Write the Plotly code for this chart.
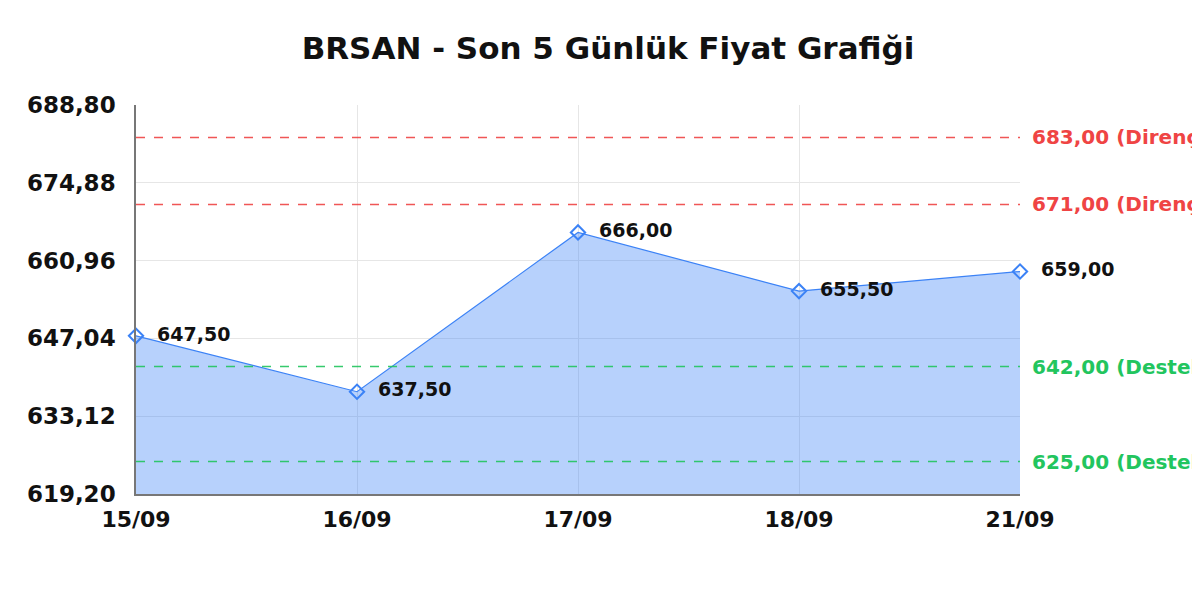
import plotly.graph_objects as go

# Veriler
tarihler = ["15/09", "16/09", "17/09", "18/09", "21/09"]
fiyatlar = [647.50, 637.50, 666.00, 655.50, 659.00]
direncler = [683.00, 671.00]
destekler = [642.00, 625.00]
y_min, y_max, y_adim = 619.20, 688.80, 13.92

FONT = "DejaVu Sans"

fig = go.Figure()

# Fiyat alanı ve çizgisi
fig.add_trace(go.Scatter(
    x=tarihler, y=fiyatlar,
    mode="lines+markers+text",
    fill="tozeroy",
    fillcolor="rgba(59,130,246,0.37)",
    line=dict(color="#3b82f6", width=1.2),
    marker=dict(symbol="diamond-open", size=11, color="#3b82f6",
                line=dict(width=2, color="#3b82f6")),
    texttemplate="  %{y:.2f}",
    textposition="middle right",
    textfont=dict(family=FONT, size=19, color="#111111", weight="bold"),
    cliponaxis=False,
    showlegend=False,
    hoverinfo="x+y",
))

# Direnç / destek çizgileri
seviyeler = [(d, "Direnç", "#ef4444") for d in direncler] + \
            [(s, "Destek", "#22c55e") for s in destekler]
for deger, etiket, renk in seviyeler:
    fig.add_shape(type="line", xref="paper", x0=0, x1=1, yref="y", y0=deger, y1=deger,
                  line=dict(color=renk, width=1.5, dash="dash"), layer="above", opacity=0.9)
    fig.add_annotation(xref="paper", x=1, xanchor="left", xshift=10,
                       yref="y", y=deger, yanchor="middle",
                       text=f"{deger:.2f}".replace(".", ",") + f" ({etiket})",
                       showarrow=False,
                       font=dict(family=FONT, size=20, color=renk, weight="bold"))

fig.update_layout(
    width=1200, height=600,
    paper_bgcolor="white", plot_bgcolor="white",
    separators=",.",
    margin=dict(l=128, r=188, t=97, b=114),
    title=dict(text="<b>BRSAN - Son 5 Günlük Fiyat Grafiği</b>", x=0.5, xanchor="center",
               y=1 - 40 / 600, yanchor="middle",
               font=dict(family=FONT, size=31, color="#111111")),
    font=dict(family=FONT),
)

fig.update_xaxes(
    type="category", range=[0, len(tarihler) - 1],
    showgrid=True, gridcolor="#e6e6e6",
    showline=True, linecolor="#777777", linewidth=1.5,
    ticks="", tickfont=dict(family=FONT, size=22, color="#111111", weight="bold"),
    ticklabelstandoff=5,
)
fig.update_yaxes(
    range=[y_min, y_max], tick0=y_min, dtick=y_adim, tickformat=".2f",
    showgrid=True, gridcolor="#e6e6e6",
    showline=True, linecolor="#777777", linewidth=1.5,
    zeroline=False,
    ticks="", tickfont=dict(family=FONT, size=23, color="#111111", weight="bold"),
    ticklabelstandoff=14,
)

fig.write_html("out.html")
